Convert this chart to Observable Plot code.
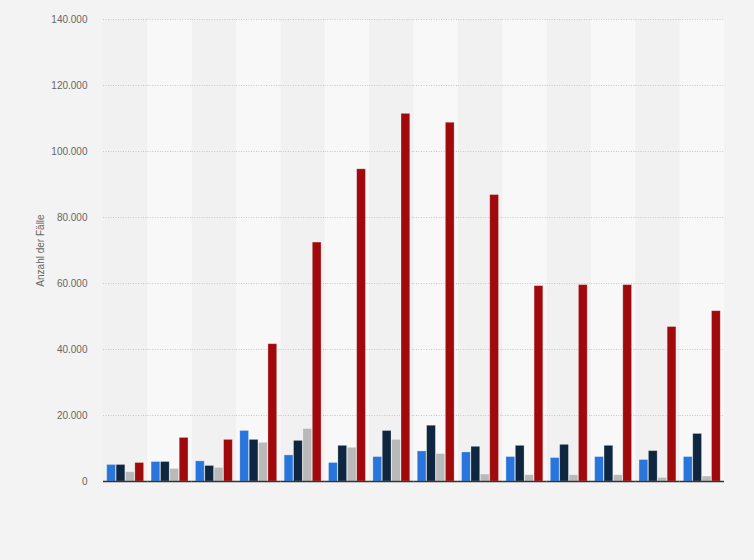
<!DOCTYPE html>
<html>
<head>
<meta charset="utf-8">
<script src="https://cdn.jsdelivr.net/npm/d3@7"></script>
<script src="https://cdn.jsdelivr.net/npm/@observablehq/plot@0.6"></script>
<style>
  html, body { margin: 0; padding: 0; background: #f3f3f3; }
  #chart { width: 754px; height: 560px; }
</style>
</head>
<body>
<div id="chart"></div>
<script>
const groups = ["1","2","3","4","5","6","7","8","9","10","11","12","13","14"];
const series = ["Reihe 1","Reihe 2","Reihe 3","Reihe 4"];
const seriesColors = ["#2876dd","#0f2640","#b9b9b9","#a10a0d"];
const values1 = [5000,5900,6100,15300,7900,5600,7400,9100,8800,7400,7100,7400,6500,7400];
const values2 = [5000,5900,4700,12600,12300,10800,15300,16900,10500,10800,11100,10800,9200,14400];
const values3 = [2800,3800,4100,11700,15900,10200,12600,8300,2100,1900,1900,1900,1100,1500];
const values4 = [5600,13200,12600,41600,72400,94600,111400,108700,86800,59200,59500,59500,46800,51600];
const yTicks = [0,20000,40000,60000,80000,100000,120000,140000];

const allValues = [values1, values2, values3, values4];
const rows = groups.flatMap((g, i) => series.map((s, j) => ({group: g, series: s, value: allValues[j][i]})));
const darkStripes = groups.filter((g, i) => i % 2 === 0);
const lightStripes = groups.filter((g, i) => i % 2 === 1);
const fmt = d3.formatLocale({decimal: ",", thousands: ".", grouping: [3], currency: ["", " €"]}).format(",d");

const chart = Plot.plot({
  width: 754,
  height: 560,
  marginTop: 19,
  marginBottom: 79,
  marginLeft: 103,
  marginRight: 30,
  style: {background: "#f3f3f3", fontFamily: "'Liberation Sans', Arial, sans-serif", fontSize: "10px", color: "#666"},
  fx: {domain: groups, padding: 0, round: false, axis: null},
  x: {domain: series, paddingInner: 0.07, paddingOuter: 0.4, round: false, axis: null},
  y: {domain: [0, 140000], ticks: yTicks, tickFormat: fmt, tickSize: 0, tickPadding: 16,
      label: "Anzahl der Fälle", labelAnchor: "center", labelOffset: 67, labelArrow: "none"},
  color: {domain: series, range: seriesColors},
  marks: [
    Plot.barY(darkStripes, {fx: d => d, y1: 0, y2: 140000, fill: "#f1f1f1"}),
    Plot.barY(lightStripes, {fx: d => d, y1: 0, y2: 140000, fill: "#f8f8f8"}),
    Plot.ruleY(yTicks.filter(t => t > 0), {stroke: "#c8c8c8", strokeDasharray: "1,1.5"}),
    Plot.barY(rows, {fx: "group", x: "series", y: "value", fill: "series", stroke: "white", strokeOpacity: 0.3, strokeWidth: 0.8}),
    Plot.ruleY([0], {stroke: "#333", strokeWidth: 1.3})
  ]
});
document.getElementById("chart").appendChild(chart);
</script>
</body>
</html>
